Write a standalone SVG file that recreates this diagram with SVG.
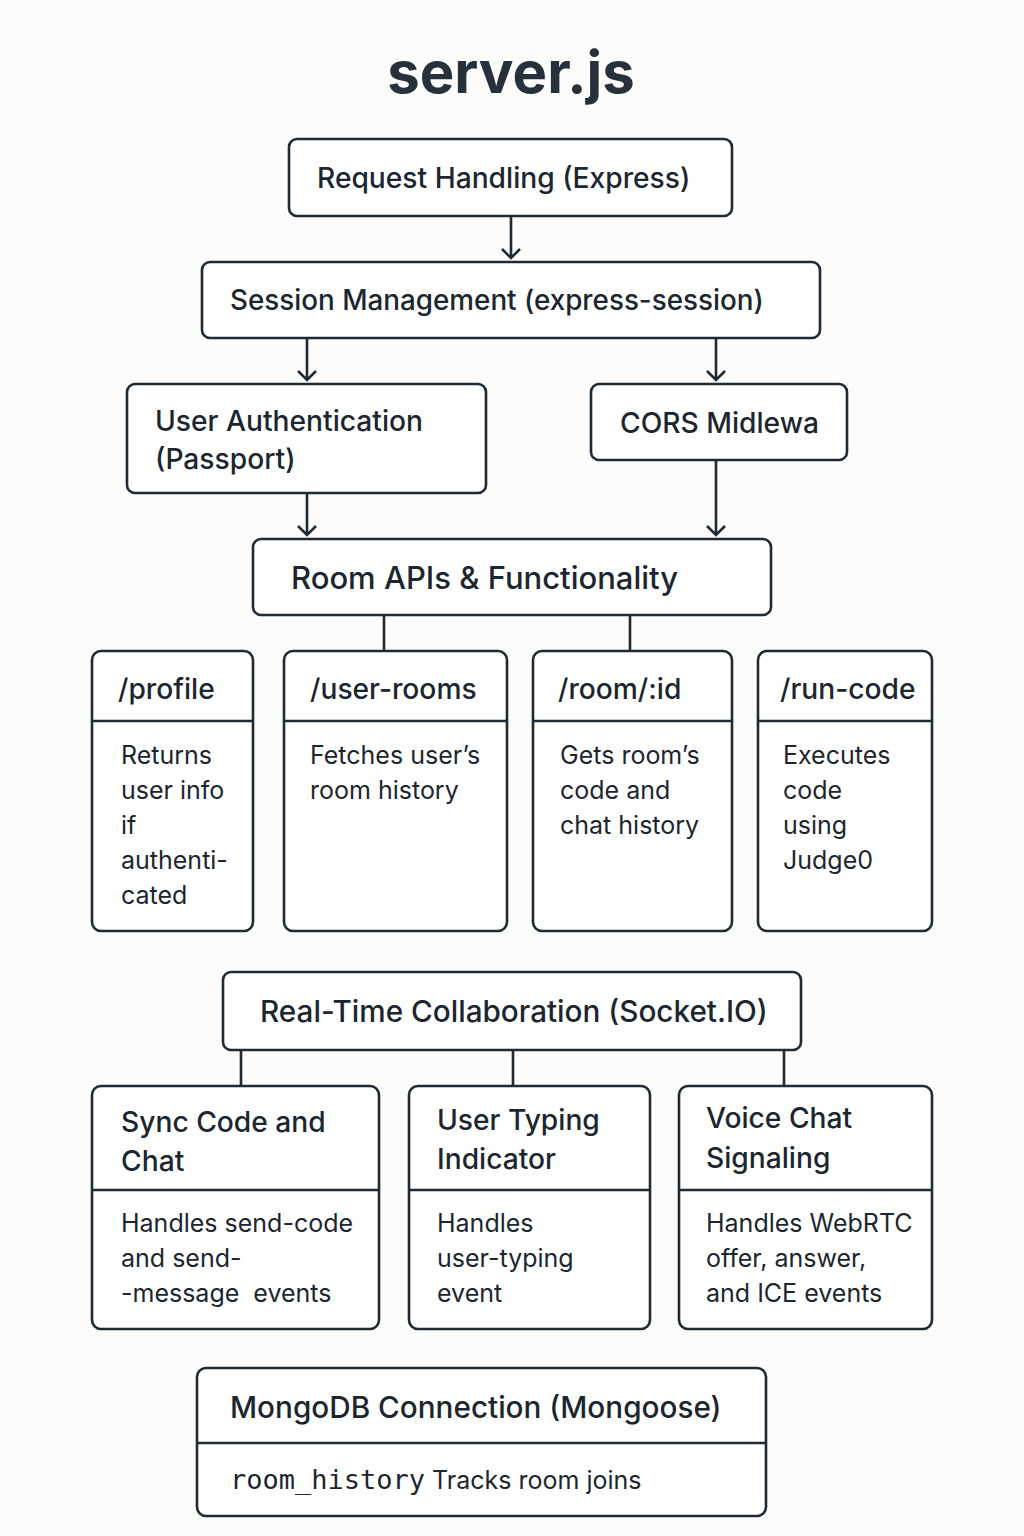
<svg xmlns="http://www.w3.org/2000/svg" width="1024" height="1536" viewBox="0 0 1024 1536">
<style>
.bg{fill:#fcfcfa}
.box{fill:#ffffff;stroke:#1f2a33;stroke-width:2.6}
.ln{stroke:#1f2a33;stroke-width:2.6;fill:none}
.t{font-family:Inter,"Open Sans","Liberation Sans",sans-serif;fill:#1c2630;font-weight:500}
.h{font-size:28.2px}
.b{font-size:25px;font-weight:400}
.m{font-family:"DejaVu Sans Mono","Liberation Mono",monospace;font-size:27px;fill:#1c2630}
.title{font-size:58px;font-weight:700;fill:#27313b}
</style>
<rect class="bg" x="0" y="0" width="1024" height="1536"/>
<text class="t title" x="511" y="93" text-anchor="middle">server.js</text>

<g id="connectors">
<path class="ln" d="M511 216V258M502 249L511 258L520 249"/>
<path class="ln" d="M307 338V380M298 371L307 380L316 371"/>
<path class="ln" d="M716 338V380M707 371L716 380L725 371"/>
<path class="ln" d="M307 493V535M298 526L307 535L316 526"/>
<path class="ln" d="M716 460V535M707 526L716 535L725 526"/>
<path class="ln" d="M384 615V651M630 615V651"/>
<path class="ln" d="M241 1050V1086M513 1050V1086M784 1050V1086"/>
</g>

<g id="request">
<rect class="box" x="289" y="139" width="443" height="77" rx="8"/>
<text class="t h" x="317" y="188">Request Handling (Express)</text>
</g>
<g id="session">
<rect class="box" x="202" y="262" width="618" height="76" rx="8"/>
<text class="t" x="230" y="310" font-size="27.8">Session Management (express-session)</text>
</g>
<g id="auth">
<rect class="box" x="127" y="384" width="359" height="109" rx="8"/>
<text class="t h" x="155" y="431">User Authentication</text>
<text class="t h" x="155" y="469">(Passport)</text>
</g>
<g id="cors">
<rect class="box" x="591" y="384" width="256" height="76" rx="8"/>
<text class="t h" x="620" y="433">CORS Midlewa</text>
</g>
<g id="roomapis">
<rect class="box" x="253" y="539" width="518" height="76" rx="8"/>
<text class="t" x="291" y="589" font-size="31">Room APIs &amp; Functionality</text>
</g>

<g id="profile">
<rect class="box" x="92" y="651" width="161" height="280" rx="9"/>
<path class="ln" d="M92 721H253"/>
<text class="t h" x="118" y="699">/profile</text>
<text class="t b" x="121" y="764">Returns</text>
<text class="t b" x="121" y="799">user info</text>
<text class="t b" x="121" y="834">if</text>
<text class="t b" x="121" y="869">authenti-</text>
<text class="t b" x="121" y="904">cated</text>
</g>
<g id="userrooms">
<rect class="box" x="284" y="651" width="223" height="280" rx="9"/>
<path class="ln" d="M284 721H507"/>
<text class="t h" x="310" y="699">/user-rooms</text>
<text class="t b" x="310" y="764">Fetches user’s</text>
<text class="t b" x="310" y="799">room history</text>
</g>
<g id="roomid">
<rect class="box" x="533" y="651" width="199" height="280" rx="9"/>
<path class="ln" d="M533 721H732"/>
<text class="t h" x="558" y="699">/room/:id</text>
<text class="t b" x="560" y="764">Gets room’s</text>
<text class="t b" x="560" y="799">code and</text>
<text class="t b" x="560" y="834">chat history</text>
</g>
<g id="runcode">
<rect class="box" x="758" y="651" width="174" height="280" rx="9"/>
<path class="ln" d="M758 721H932"/>
<text class="t h" x="780" y="699">/run-code</text>
<text class="t b" x="783" y="764">Executes</text>
<text class="t b" x="783" y="799">code</text>
<text class="t b" x="783" y="834">using</text>
<text class="t b" x="783" y="869">Judge0</text>
</g>

<g id="realtime">
<rect class="box" x="223" y="972" width="578" height="78" rx="8"/>
<text class="t" x="260" y="1022" font-size="29.7">Real-Time Collaboration (Socket.IO)</text>
</g>
<g id="sync">
<rect class="box" x="92" y="1086" width="287" height="243" rx="9"/>
<path class="ln" d="M92 1190H379"/>
<text class="t h" x="121" y="1132">Sync Code and</text>
<text class="t h" x="121" y="1171">Chat</text>
<text class="t b" x="121" y="1232">Handles send-code</text>
<text class="t b" x="121" y="1267">and send-</text>
<text class="t b" x="121" y="1302" xml:space="preserve">-message  events</text>
</g>
<g id="typing">
<rect class="box" x="409" y="1086" width="241" height="243" rx="9"/>
<path class="ln" d="M409 1190H650"/>
<text class="t h" x="437" y="1130">User Typing</text>
<text class="t h" x="437" y="1169">Indicator</text>
<text class="t b" x="437" y="1232">Handles</text>
<text class="t b" x="437" y="1267">user-typing</text>
<text class="t b" x="437" y="1302">event</text>
</g>
<g id="voice">
<rect class="box" x="679" y="1086" width="253" height="243" rx="9"/>
<path class="ln" d="M679 1190H932"/>
<text class="t h" x="706" y="1128">Voice Chat</text>
<text class="t h" x="706" y="1168">Signaling</text>
<text class="t b" x="706" y="1232">Handles WebRTC</text>
<text class="t b" x="706" y="1267">offer, answer,</text>
<text class="t b" x="706" y="1302">and ICE events</text>
</g>

<g id="mongo">
<rect class="box" x="197" y="1368" width="569" height="148" rx="9"/>
<path class="ln" d="M197 1443H766"/>
<text class="t" x="230" y="1418" font-size="29.7">MongoDB Connection (Mongoose)</text>
<text x="230" y="1489"><tspan class="m">room_history</tspan><tspan class="t b"> Tracks room joins</tspan></text>
</g>
</svg>
